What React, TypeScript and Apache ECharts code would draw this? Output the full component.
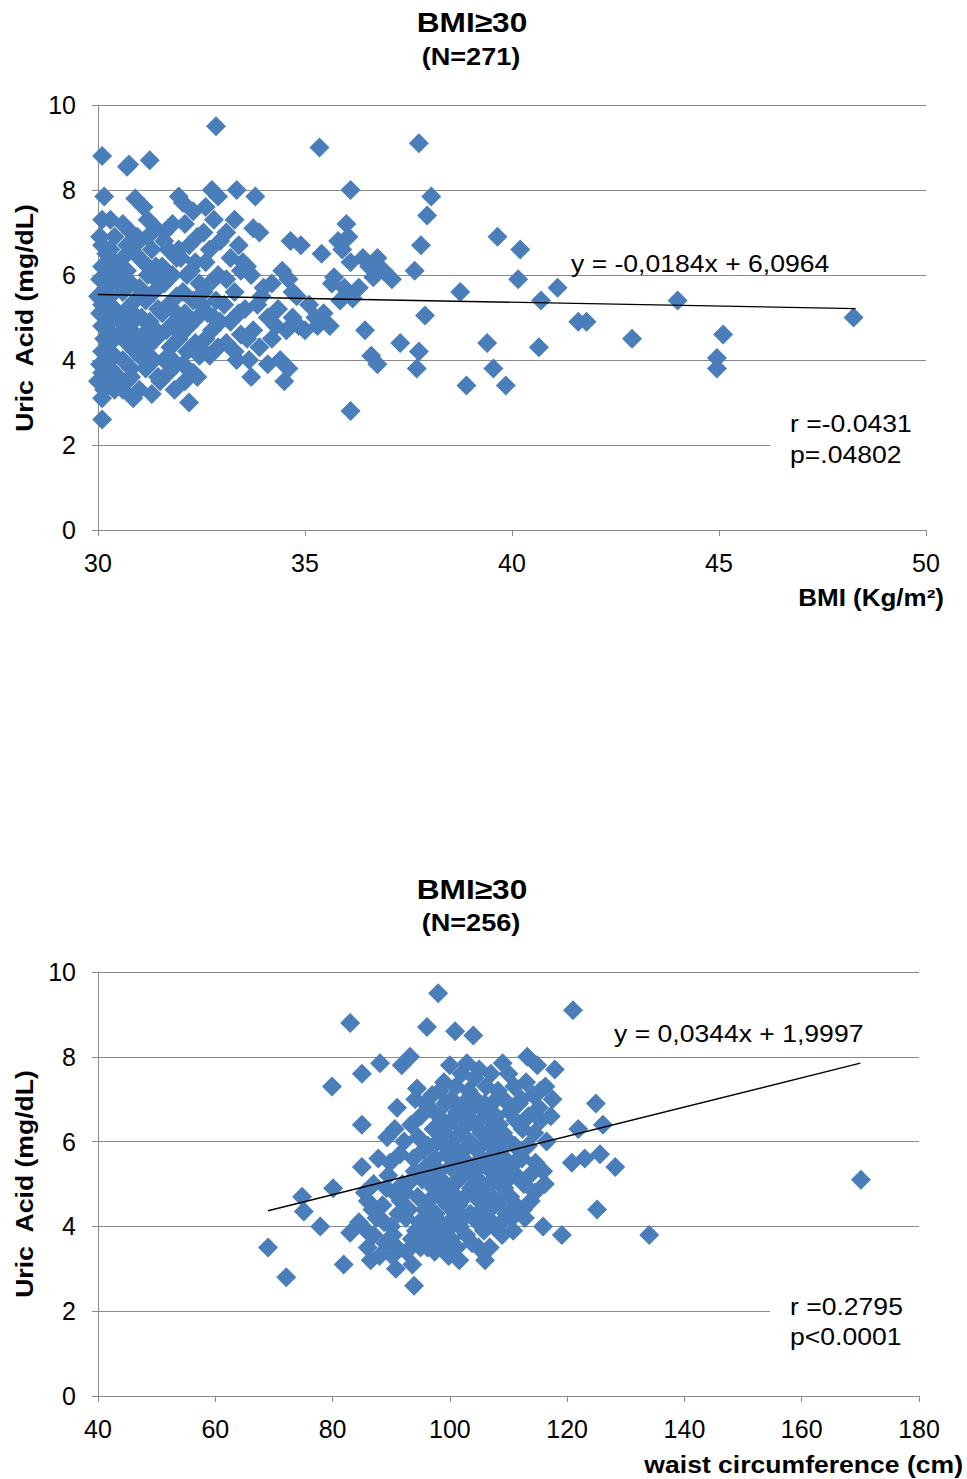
import React, { useEffect, useRef } from "react";
import * as echarts from "echarts";

// ---------- DATA ----------
// Chart 1: BMI (kg/m²) vs uric acid (mg/dL), N = 271
const bmiUricPoints: number[][] = [
  // BMI 30.0 - 30.5
  [30.1, 8.8], [30.15, 7.85], [30.1, 7.3], [30.05, 6.9], [30.1, 6.7], [30.2, 6.5], [30.1, 6.2], [30.05, 5.9],
  [30.0, 5.5], [30.1, 5.3], [30.05, 5.1], [30.1, 4.8], [30.15, 4.5], [30.1, 4.2], [30.05, 3.9], [30.1, 3.7],
  [30.0, 3.5], [30.15, 3.3], [30.1, 3.1], [30.1, 2.6], [30.3, 7.3], [30.4, 6.9], [30.3, 6.6], [30.4, 6.3],
  [30.3, 6.0], [30.5, 5.8], [30.3, 5.5], [30.4, 5.2], [30.3, 4.9], [30.5, 4.6], [30.3, 4.4], [30.4, 4.1],
  [30.3, 3.8], [30.5, 3.6], [30.4, 3.3], [30.2, 5.7], [30.2, 4.0], [30.45, 5.0], [30.25, 4.7], [30.35, 3.5],
  // BMI 30.5 - 31.0
  [30.7, 8.55], [30.75, 8.6], [30.9, 7.8], [30.6, 7.2], [30.8, 7.0], [30.7, 6.7], [30.6, 6.4], [30.9, 6.5],
  [30.7, 6.1], [30.8, 5.8], [30.6, 5.6], [30.9, 5.4], [30.7, 5.2], [30.6, 4.9], [30.8, 4.7], [30.7, 4.4],
  [30.9, 4.2], [30.6, 4.0], [30.8, 3.8], [30.7, 3.5], [30.6, 3.3], [30.85, 3.1], [30.95, 6.9], [30.95, 5.0],
  [30.55, 6.0], [30.65, 4.6], [30.95, 4.4], [30.8, 3.6],
  // BMI 31.0 - 31.5
  [31.25, 8.7], [31.1, 7.6], [31.2, 7.3], [31.4, 7.1], [31.0, 6.8], [31.3, 6.6], [31.1, 6.3], [31.4, 6.2],
  [31.2, 6.0], [31.0, 5.7], [31.35, 5.6], [31.15, 5.4], [31.45, 5.2], [31.05, 5.0], [31.3, 4.8], [31.1, 4.6],
  [31.4, 4.5], [31.2, 4.3], [31.0, 4.1], [31.35, 4.0], [31.15, 3.8], [31.45, 3.6], [31.0, 3.3], [31.3, 3.2],
  [31.2, 6.9], [31.4, 5.9], [31.25, 4.9],
  // BMI 31.5 - 32.0
  [31.6, 7.0], [31.8, 7.2], [31.95, 7.85], [31.7, 6.6], [31.9, 6.4], [31.55, 6.2], [31.8, 6.0], [31.6, 5.8],
  [31.9, 5.5], [31.7, 5.3], [31.55, 5.1], [31.85, 4.9], [31.65, 4.7], [31.95, 4.5], [31.75, 4.3], [31.6, 4.0],
  [31.9, 3.9], [31.7, 3.7], [31.5, 3.5], [31.85, 3.3], [31.6, 6.8], [31.8, 5.2], [31.7, 4.1], [31.95, 6.6],
  // BMI 32.0 - 32.5
  [32.2, 3.0], [32.05, 7.7], [32.3, 7.5], [32.1, 7.2], [32.4, 6.9], [32.2, 6.7], [32.0, 6.4], [32.35, 6.3],
  [32.15, 6.0], [32.45, 5.8], [32.05, 5.6], [32.3, 5.4], [32.1, 5.1], [32.4, 5.0], [32.2, 4.8], [32.0, 4.6],
  [32.35, 4.4], [32.15, 4.2], [32.45, 4.1], [32.05, 3.9], [32.3, 3.7], [32.1, 3.5], [32.4, 3.6], [32.25, 6.1],
  [32.5, 5.3],
  // BMI 32.5 - 33.0
  [32.85, 9.5], [32.75, 8.0], [32.9, 7.85], [32.6, 7.6], [32.8, 7.3], [32.55, 7.0], [32.95, 6.8], [32.7, 6.6],
  [32.6, 6.3], [32.9, 6.0], [32.7, 5.8], [32.55, 5.6], [32.85, 5.4], [32.65, 5.1], [32.95, 4.9], [32.75, 4.7],
  [32.6, 4.5], [32.9, 4.3], [32.7, 4.1], [32.55, 4.2], [32.8, 5.0],
  // BMI 33.0 - 33.5
  [33.35, 8.0], [33.3, 7.3], [33.1, 7.0], [33.4, 6.7], [33.2, 6.4], [33.45, 6.1], [33.1, 5.9], [33.3, 5.6],
  [33.05, 5.3], [33.4, 5.1], [33.2, 4.9], [33.45, 4.6], [33.1, 4.4], [33.3, 4.2], [33.35, 4.0], [33.5, 6.3],
  // BMI 33.5 - 34.0
  [33.8, 7.85], [33.75, 7.1], [33.9, 7.0], [33.6, 6.2], [33.7, 6.0], [33.85, 5.3], [33.55, 5.2], [33.75, 4.7],
  [33.6, 4.5], [33.9, 4.3], [33.65, 4.0], [33.7, 3.6], [33.95, 5.5],
  // BMI 34.0 - 34.5
  [34.0, 5.7], [34.2, 5.8], [34.1, 5.0], [34.3, 4.8], [34.45, 6.1], [34.2, 4.5], [34.4, 4.0], [34.1, 3.9],
  [34.35, 5.2], [34.5, 3.5],
  // BMI 34.5 - 35.0
  [34.65, 6.8], [34.9, 6.7], [34.6, 5.9], [34.8, 5.5], [34.7, 5.0], [34.55, 4.7], [34.85, 4.8], [34.6, 3.8],
  [34.7, 5.6],
  // BMI 35.0 - 36.0
  [35.35, 9.0], [35.1, 5.3], [35.25, 5.0], [35.4, 6.5], [35.0, 4.7], [35.3, 4.8], [35.45, 5.1],
  [35.7, 5.95], [35.85, 5.4], [35.6, 4.8], [35.8, 6.8], [35.65, 5.8], [35.9, 6.6], [35.95, 5.7],
  // BMI 36.0 - 38.0
  [36.1, 8.0], [36.0, 7.2], [36.05, 6.9], [36.1, 6.3], [36.4, 6.4], [36.15, 5.45], [36.45, 4.7], [36.1, 2.8],
  [36.3, 5.7], [36.75, 6.4], [36.9, 6.1], [36.65, 5.95], [36.6, 4.1], [36.75, 3.9], [36.55, 6.2],
  [37.1, 5.9], [37.3, 4.4], [37.65, 6.1], [37.75, 9.1], [37.8, 6.7], [37.95, 7.4], [37.9, 5.05], [37.75, 4.2],
  [37.7, 3.8],
  // BMI > 38
  [38.05, 7.85], [38.75, 5.6], [38.9, 3.4], [39.4, 4.4], [39.55, 3.8], [39.65, 6.9], [39.85, 3.4], [40.15, 5.9],
  [40.2, 6.6], [40.7, 5.4], [40.65, 4.3], [41.1, 5.7], [41.6, 4.9], [41.8, 4.9], [42.9, 4.5], [44.0, 5.4],
  [44.95, 4.05], [44.95, 3.8], [45.1, 4.6], [48.25, 5.0],
];

// Chart 2: waist circumference (cm) vs uric acid (mg/dL), N = 256
const waistUricPoints: number[][] = [
  [69, 3.5], [72.1, 2.8], [74.8, 4.7], [75.1, 4.35], [77.9, 4.0], [79.9, 7.3], [80.1, 4.9], [81.9, 3.1],
  [83, 8.8], [83, 3.85], [85, 7.6], [85, 6.4], [85, 5.4],
  [84.5, 4.1], [85.5, 4.8], [86, 3.5], [86.5, 3.2], [87, 5.0], [87.5, 4.2], [88.1, 7.85], [86, 4.6],
  [87, 3.8], [85.8, 3.9], [88, 3.3], [87.8, 5.6], [86.8, 4.4],
  [88.5, 4.5], [89.3, 6.1], [89, 3.6], [89.5, 5.2], [90, 4.0], [90.2, 3.3], [90.5, 4.8], [91, 6.8],
  [91, 3.5], [91.5, 5.7], [91.8, 7.8], [91.2, 4.3], [90.8, 3.0], [89.8, 5.5], [91.6, 4.6], [88.8, 4.1],
  [90.3, 3.8], [91.9, 5.0], [89.2, 4.9], [90.6, 6.3],
  [92.2, 6.0], [92.5, 4.2], [93.2, 8.0], [93.5, 3.7], [93.9, 2.6], [94.4, 7.25], [94, 5.3], [94.5, 4.7],
  [95, 6.6], [95, 3.5], [95.5, 5.8], [92.8, 5.0], [93, 4.4], [93.4, 6.4], [94.2, 3.9], [94.8, 4.1],
  [95.3, 5.1], [95.8, 6.9], [92.6, 3.4], [93.8, 5.6], [94.6, 6.1], [95.7, 4.4], [92.4, 4.8], [93.6, 3.1],
  [95.2, 3.8], [94.1, 7.0], [95.9, 5.4],
  [96.1, 8.7], [96.5, 6.8], [96.3, 5.9], [96.8, 5.2], [96.4, 4.6], [96.9, 4.0], [96.2, 3.5], [97, 7.1],
  [97.2, 6.3], [97.5, 5.6], [97.3, 4.9], [97.6, 4.3], [97.8, 3.7], [98, 9.5], [98.3, 7.2], [98.1, 6.6],
  [98.4, 6.0], [98.2, 5.3], [98.5, 4.7], [98.3, 4.1], [98.6, 3.5], [99, 7.4], [99.2, 6.9], [99.1, 6.2],
  [99.4, 5.7], [99.3, 5.0], [99.6, 4.5], [99.5, 3.9], [99.8, 3.3], [97.1, 5.0], [96.6, 4.3], [97.9, 6.0],
  [98.8, 5.0], [99.7, 6.4], [97.4, 3.4],
  [100, 7.8], [100.9, 8.6], [100.3, 7.0], [100.2, 6.5], [100.5, 5.9], [100.1, 5.4], [100.4, 4.8], [100.6, 4.2],
  [100.2, 3.7], [101, 7.3], [101.2, 6.7], [101.1, 6.1], [101.4, 5.6], [101.3, 5.1], [101.5, 4.5], [101.7, 4.0],
  [101.2, 3.5], [102, 7.6], [102.3, 6.9], [102.2, 6.3], [102.5, 5.8], [102.1, 5.2], [102.6, 4.7], [102.4, 4.2],
  [102.8, 3.8], [102.9, 7.85], [103.2, 7.2], [103.1, 6.6], [103.4, 6.0], [103.3, 5.4], [103.6, 4.9], [103.5, 4.3],
  [103.8, 3.6], [104, 8.5], [103.7, 6.8], [100.8, 5.0], [101.8, 5.4], [102.7, 6.5], [103.9, 5.2], [101.6, 3.2],
  [104.2, 7.5], [104.4, 7.0], [104.3, 6.4], [104.6, 5.8], [104.5, 5.3], [104.8, 4.7], [104.7, 4.1], [104.9, 3.5],
  [105, 7.7], [105.2, 6.8], [105.4, 6.2], [105.3, 5.6], [105.6, 5.0], [105.5, 4.4], [105.8, 3.9], [106, 3.2],
  [106.2, 7.3], [106.1, 6.6], [106.4, 6.0], [106.3, 5.4], [106.6, 4.8], [106.5, 4.2], [106.8, 3.5], [107, 7.6],
  [107.2, 6.9], [107.1, 6.3], [107.4, 5.7], [107.3, 5.1], [107.6, 4.5], [107.5, 4.0], [107.9, 6.6], [107.8, 5.4],
  [104.1, 5.0], [105.9, 6.9], [106.9, 5.0],
  [108.2, 7.2], [108.4, 6.4], [108.3, 5.8], [108.6, 5.2], [108.5, 4.6], [108.8, 4.1], [109, 7.85], [109.2, 7.0],
  [109.1, 6.2], [109.4, 5.6], [109.3, 4.9], [109.6, 4.3], [110, 7.6], [110.2, 6.7], [110.1, 6.0], [110.4, 5.4],
  [110.3, 4.7], [110.6, 4.2], [111, 7.3], [111.2, 6.5], [111.1, 5.9], [111.4, 5.2], [111.3, 4.5], [111.8, 6.9],
  [111.7, 5.6], [109.9, 5.1], [108.9, 3.8], [110.8, 3.9],
  [112.2, 7.0], [112.4, 6.3], [112.3, 5.6], [112.6, 5.0], [112.5, 4.4], [113.2, 8.0], [113, 7.4], [113.4, 6.6],
  [113.3, 5.9], [113.6, 5.2], [114.9, 7.8], [114.2, 7.1], [114.4, 6.2], [114.6, 5.5], [114.5, 4.8], [115.4, 7.2],
  [115.2, 6.8], [115.5, 6.5], [115.9, 5.3], [115.9, 4.0], [116.3, 7.3], [116.5, 6.0], [116.2, 5.0], [117.9, 7.7],
  [117.2, 6.6], [117.5, 7.0], [119.1, 3.8], [113.8, 4.6], [112.8, 4.2],
  [120.8, 5.5], [121, 9.1], [121.9, 6.3], [123, 5.6], [124.9, 6.9], [125.1, 4.4], [125.6, 5.7], [126.1, 6.4],
  [128.2, 5.4], [134, 3.8], [170.1, 5.1],
  [99, 4.6], [101, 4.3], [105, 4.6], [103, 5.5], [107.7, 6.0],
];

// Linear trend lines (end points)
const bmiTrend: number[][] = [[30, 5.54], [48.3, 5.21]];
const waistTrend: number[][] = [[69, 4.37], [170, 7.85]];

const titleMain = "BMI\u226530";
const titleN1 = "(N=271)";
const titleN2 = "(N=256)";
const eq1 = "y = -0,0184x + 6,0964";
const eq2 = "y = 0,0344x + 1,9997";
const stats1 = ["r =-0.0431", "p=.04802"];
const stats2 = ["r =0.2795", "p<0.0001"];
const yName = "Uric  Acid (mg/dL)";
const xName1 = "BMI (Kg/m\u00b2)";
const xName2 = "waist circumference (cm)";

// ---------- STYLE ----------
const FONT = '"Liberation Sans", Arial, sans-serif';
const BLUE = "#4a7ebb";
const GRAY = "#8a8a8a";
const SX = 1.13;

function txt(text: string, x: number, y: number, size: number, bold: boolean, align: string, extra: any = {}) {
  return {
    type: "text",
    x,
    y,
    scaleX: SX,
    z: 20,
    ...extra,
    style: {
      text,
      fill: "#000",
      fontFamily: FONT,
      fontSize: size,
      fontWeight: bold ? "bold" : "normal",
      align,
      verticalAlign: "middle",
    },
  };
}

export default function App() {
  const ref = useRef<HTMLDivElement>(null);

  useEffect(() => {
    if (!ref.current) return;
    const chart = echarts.init(ref.current, null, { renderer: "svg" });

    const axisCommon = {
      axisLine: { show: true, lineStyle: { color: GRAY, width: 1 } },
      axisTick: { show: true, inside: false, length: 6, lineStyle: { color: GRAY } },
      axisLabel: { color: "#000", fontFamily: FONT, fontSize: 25 },
    };

    const xAxisOpt = (gi: number, min: number, max: number, interval: number) => ({
      type: "value",
      gridIndex: gi,
      min,
      max,
      interval,
      ...axisCommon,
      axisLabel: { ...axisCommon.axisLabel, margin: 20 },
      splitLine: { show: false },
    });
    const yAxisOpt = (gi: number) => ({
      type: "value",
      gridIndex: gi,
      min: 0,
      max: 10,
      interval: 2,
      ...axisCommon,
      axisLabel: { ...axisCommon.axisLabel, margin: 22 },
      splitLine: { show: true, lineStyle: { color: GRAY, width: 1 } },
    });

    const scatter = (i: number, data: number[][]) => ({
      type: "scatter",
      xAxisIndex: i,
      yAxisIndex: i,
      data,
      symbol: "diamond",
      symbolSize: 20,
      itemStyle: { color: BLUE, opacity: 1 },
      z: 2,
    });
    const trend = (i: number, data: number[][]) => ({
      type: "line",
      xAxisIndex: i,
      yAxisIndex: i,
      data,
      symbol: "none",
      silent: true,
      lineStyle: { color: "#000", width: 1.4 },
      z: 3,
    });

    chart.setOption({
      animation: false,
      backgroundColor: "#fff",
      grid: [
        { left: 98, top: 105, width: 828, height: 425, containLabel: false },
        { left: 98, top: 972, width: 821, height: 424, containLabel: false },
      ],
      xAxis: [xAxisOpt(0, 30, 50, 5), xAxisOpt(1, 40, 180, 20)],
      yAxis: [yAxisOpt(0), yAxisOpt(1)],
      series: [
        scatter(0, bmiUricPoints),
        trend(0, bmiTrend),
        scatter(1, waistUricPoints),
        trend(1, waistTrend),
      ],
      graphic: [
        // chart 1
        txt(titleMain, 472, 22, 28, true, "center"),
        txt(titleN1, 471, 57, 24, true, "center"),
        txt(eq1, 571, 264, 23.5, false, "left"),
        { type: "rect", z: 15, shape: { x: 770, y: 405, width: 158, height: 72 }, style: { fill: "#fff" } },
        txt(stats1[0], 790, 424, 23.5, false, "left"),
        txt(stats1[1], 790, 455, 23.5, false, "left"),
        txt(xName1, 944, 598, 23, true, "right"),
        txt(yName, 25, 318, 23.5, true, "center", { rotation: Math.PI / 2 }),
        // chart 2
        txt(titleMain, 472, 889, 28, true, "center"),
        txt(titleN2, 471, 923, 24, true, "center"),
        txt(eq2, 614, 1034, 23.5, false, "left"),
        { type: "rect", z: 15, shape: { x: 770, y: 1290, width: 152, height: 66 }, style: { fill: "#fff" } },
        txt(stats2[0], 790, 1307, 23.5, false, "left"),
        txt(stats2[1], 790, 1337, 23.5, false, "left"),
        txt(xName2, 963, 1465, 23.5, true, "right"),
        txt(yName, 25, 1184, 23.5, true, "center", { rotation: Math.PI / 2 }),
      ],
    });

    return () => chart.dispose();
  }, []);

  return (
    <div
      ref={ref}
      style={{ position: "absolute", left: 0, top: 0, width: 967, height: 1479, background: "#fff" }}
    />
  );
}
